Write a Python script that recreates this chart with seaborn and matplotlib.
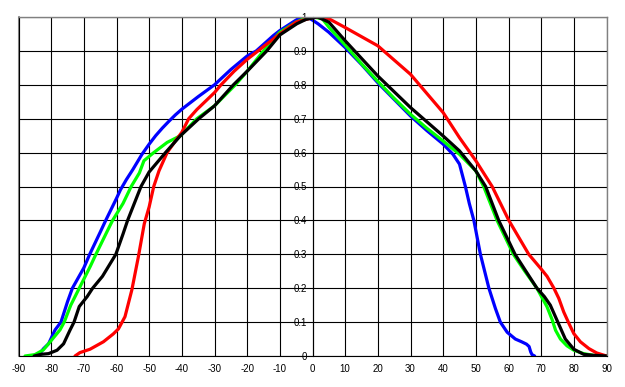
import pandas as pd
import numpy as np
import matplotlib
matplotlib.use("Agg")
import matplotlib.pyplot as plt
import seaborn as sns

# ================================
# data
# ================================
blue_x = [-84, -82.4, -80.8, -78.8, -77, -75, -73.5, -70, -68.2, -65, -63.3, -60, -58.8, -57, -55,
          -52.2, -50, -48, -46, -44, -42, -40, -35, -30, -25, -20, -17.2, -12, -10, -6, -3.5, -1,
          1.7, 5, 10, 15, 20, 25, 30, 35, 40, 43, 45, 46.8, 48, 49.4, 51.4, 54, 56, 57.5, 59.6,
          62.1, 64, 65.5, 66.3, 66.8, 67.2, 68]
blue_y = [0.0, 0.021, 0.036, 0.077, 0.10, 0.16, 0.20, 0.26, 0.30, 0.365, 0.40, 0.465, 0.49, 0.52, 0.55,
          0.595, 0.625, 0.65, 0.672, 0.692, 0.711, 0.728, 0.765, 0.80, 0.845, 0.885, 0.90, 0.945,
          0.96, 0.985, 1.0, 0.997, 0.98, 0.955, 0.91, 0.86, 0.806, 0.757, 0.708, 0.665, 0.625,
          0.595, 0.566, 0.50, 0.45, 0.40, 0.30, 0.20, 0.14, 0.10, 0.07, 0.05, 0.042, 0.035, 0.028,
          0.012, 0.004, 0.0]

green_x = [-88, -85, -82.4, -80.3, -77.3, -76, -74, -71.4, -68, -66.3, -63, -61.2, -58, -55.5, -53,
           -51.6, -48.6, -44.5, -40.4, -35.4, -30, -23.6, -20, -15, -10, -5, -2, 0, 3, 5, 10, 15,
           20, 25, 30, 35, 40, 45, 50, 52.4, 56.5, 61.5, 65, 68.7, 71.8, 73.4, 74.4, 75.9, 77.9,
           80, 83, 86, 90]
green_y = [0.0, 0.004, 0.018, 0.042, 0.077, 0.10, 0.15, 0.20, 0.265, 0.30, 0.365, 0.40, 0.45, 0.50,
           0.54, 0.576, 0.60, 0.63, 0.65, 0.70, 0.738, 0.80, 0.84, 0.90, 0.955, 0.985, 0.997, 1.0,
           0.995, 0.97, 0.917, 0.862, 0.81, 0.76, 0.713, 0.672, 0.634, 0.595, 0.546, 0.50, 0.40,
           0.30, 0.25, 0.20, 0.145, 0.106, 0.076, 0.05, 0.03, 0.017, 0.007, 0.002, 0.0]

red_x = [-72.7, -71.2, -68.1, -64, -61, -59.4, -57.4, -55.3, -53.3, -51.5, -50, -48.6, -47, -44.5,
         -42, -40, -37.9, -35.4, -30, -28, -24, -20, -16, -10, -5, 0, 2.5, 5, 10, 20, 30, 40, 45,
         50, 55, 60.1, 66.2, 69.8, 71.8, 73.9, 75.4, 76.9, 78.5, 80, 82, 84.6, 87, 90]
red_y = [0.0, 0.01, 0.02, 0.042, 0.065, 0.08, 0.116, 0.195, 0.293, 0.39, 0.44, 0.50, 0.546, 0.60,
         0.634, 0.66, 0.70, 0.727, 0.777, 0.80, 0.84, 0.875, 0.905, 0.95, 0.985, 0.998, 1.0, 0.995,
         0.969, 0.915, 0.831, 0.718, 0.644, 0.576, 0.50, 0.40, 0.30, 0.259, 0.235, 0.20, 0.17, 0.13,
         0.096, 0.066, 0.042, 0.022, 0.009, 0.0]

black_x = [-85.2, -83, -80.8, -78.2, -76.2, -74.2, -73, -71.4, -69, -67.3, -64.3, -60.2, -58, -56.6,
           -52.5, -50, -45, -40.4, -34.8, -30, -24.2, -20, -14, -10, -4.8, -2, 1.5, 5, 10, 20, 30,
           40, 45, 50, 53, 57, 62, 65, 68.7, 71, 72.8, 75.1, 77.4, 80, 83, 86, 90]
black_y = [0.0, 0.005, 0.007, 0.017, 0.036, 0.077, 0.10, 0.146, 0.175, 0.20, 0.235, 0.30, 0.36, 0.40,
           0.50, 0.543, 0.60, 0.65, 0.70, 0.738, 0.80, 0.84, 0.90, 0.947, 0.98, 0.993, 1.0, 0.985,
           0.93, 0.826, 0.733, 0.649, 0.605, 0.546, 0.50, 0.40, 0.30, 0.255, 0.20, 0.175, 0.15, 0.10,
           0.05, 0.02, 0.005, 0.002, 0.0]

x_ticks = list(range(-90, 91, 10))
y_ticks = [0, 0.1, 0.2, 0.3, 0.4, 0.5, 0.6, 0.7, 0.8, 0.9, 1.0]
y_labels = ["0", "0.1", "0.2", "0.3", "0.4", "0.5", "0.6", "0.7", "0.8", "0.9", "1"]

colors = {"blue": "#0000FF", "green": "#00FF00", "red": "#FF0000", "black": "#000000"}

# long table for seaborn
frames = []
for name, xs, ys in [("blue", blue_x, blue_y), ("green", green_x, green_y),
                     ("red", red_x, red_y), ("black", black_x, black_y)]:
    frames.append(pd.DataFrame({"angle": xs, "value": ys, "series": name}))
df = pd.concat(frames, ignore_index=True)

# ================================
# plot
# ================================
sns.set_style("white")
plt.rcParams['font.family'] = ['Liberation Sans', 'DejaVu Sans']

fig = plt.figure(figsize=(6.25, 3.87), dpi=100)
ax = fig.add_axes([18.5 / 625, 31 / 387, 588 / 625, 339 / 387])

sns.lineplot(data=df, x="angle", y="value", hue="series", palette=colors,
             estimator=None, sort=False, linewidth=2.3, legend=False, ax=ax)

ax.set_xlim(-90, 90)
ax.set_ylim(0, 1)
ax.set_xticks(x_ticks)
ax.set_xticklabels([str(t) for t in x_ticks])
ax.set_yticks(y_ticks)
ax.set_yticklabels(y_labels)
ax.set_xlabel("")
ax.set_ylabel("")

ax.grid(True, color="black", linewidth=0.8)
ax.set_axisbelow(True)

# value axis crosses at 0 like the original
ax.spines['left'].set_position(('data', 0))
ax.spines['left'].set_color("black")
ax.spines['left'].set_linewidth(0.8)
ax.spines['bottom'].set_color("black")
ax.spines['bottom'].set_linewidth(0.8)
for s in ['top', 'right']:
    ax.spines[s].set_color("#808080")
    ax.spines[s].set_linewidth(1)
ax.axvline(-90, color="#808080", linewidth=1.5, clip_on=False, zorder=0.5)

ax.tick_params(axis='both', length=0, labelsize=7, colors="black")
ax.tick_params(axis='y', pad=4)
ax.tick_params(axis='x', pad=6)

fig.savefig("out.png", dpi=100)
